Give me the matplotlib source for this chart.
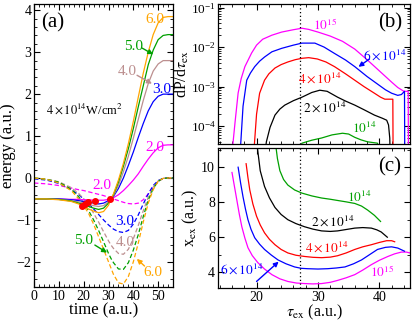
import numpy as np
import matplotlib
matplotlib.use("Agg")
import matplotlib.pyplot as plt
from matplotlib.ticker import MultipleLocator, LogLocator, NullFormatter

plt.rcParams['font.family'] = ['Liberation Serif', 'DejaVu Serif']
plt.rcParams['mathtext.fontset'] = 'stix'
plt.rcParams['xtick.direction'] = 'in'
plt.rcParams['ytick.direction'] = 'in'
plt.rcParams['xtick.top'] = True
plt.rcParams['ytick.right'] = True

# ---------------- panel (a) data ----------------
t_a = [0, 5, 10, 15, 18, 20, 22, 24, 26, 28, 30, 31, 32, 34, 36, 38, 40, 42, 44, 46, 48, 50, 52, 54, 56]
sol_60 = [-0.5, -0.5, -0.52, -0.56, -0.62, -0.68, -0.74, -0.79, -0.83, -0.8, -0.65, -0.5, -0.38, -0.05, 0.35, 0.82, 1.35, 1.93, 2.5, 3.0, 3.42, 3.7, 3.83, 3.85, 3.85]
sol_50 = [-0.5, -0.5, -0.51, -0.55, -0.6, -0.64, -0.68, -0.72, -0.75, -0.72, -0.6, -0.5, -0.4, -0.1, 0.28, 0.7, 1.18, 1.7, 2.2, 2.7, 3.05, 3.3, 3.4, 3.42, 3.42]
sol_40 = [-0.5, -0.5, -0.51, -0.54, -0.57, -0.6, -0.63, -0.66, -0.68, -0.66, -0.57, -0.5, -0.42, -0.18, 0.15, 0.52, 0.95, 1.4, 1.85, 2.25, 2.55, 2.72, 2.8, 2.8, 2.8]
sol_30 = [-0.5, -0.5, -0.5, -0.52, -0.54, -0.56, -0.57, -0.6, -0.62, -0.6, -0.54, -0.5, -0.44, -0.25, 0.0, 0.3, 0.62, 0.97, 1.3, 1.6, 1.82, 1.95, 2.0, 2.0, 2.0]
sol_20 = [-0.5, -0.5, -0.5, -0.51, -0.51, -0.52, -0.52, -0.53, -0.53, -0.53, -0.51, -0.5, -0.47, -0.4, -0.3, -0.18, -0.05, 0.1, 0.28, 0.45, 0.6, 0.72, 0.78, 0.79, 0.79]
das_60 = [0.0, -0.03, -0.12, -0.3, -0.5, -0.66, -0.85, -1.1, -1.4, -1.7, -2.0, -2.15, -2.3, -2.5, -2.53, -2.35, -2.0, -1.55, -1.05, -0.6, -0.28, -0.08, -0.01, 0.0, 0.0]
das_50 = [0.0, -0.03, -0.1, -0.27, -0.45, -0.6, -0.78, -1.0, -1.25, -1.52, -1.8, -1.92, -2.02, -2.17, -2.18, -2.02, -1.72, -1.35, -0.92, -0.53, -0.25, -0.08, -0.01, 0.0, 0.0]
das_40 = [0.0, -0.03, -0.09, -0.23, -0.37, -0.5, -0.65, -0.84, -1.05, -1.28, -1.5, -1.6, -1.68, -1.8, -1.82, -1.7, -1.45, -1.13, -0.78, -0.46, -0.22, -0.07, -0.01, 0.0, 0.0]
das_30 = [-0.02, -0.05, -0.13, -0.28, -0.4, -0.5, -0.61, -0.74, -0.87, -1.0, -1.12, -1.17, -1.22, -1.28, -1.3, -1.25, -1.1, -0.88, -0.62, -0.38, -0.18, -0.06, -0.01, 0.0, 0.0]
das_20 = [-0.12, -0.14, -0.18, -0.24, -0.28, -0.3, -0.33, -0.36, -0.39, -0.42, -0.46, -0.48, -0.5, -0.54, -0.58, -0.61, -0.62, -0.6, -0.52, -0.38, -0.22, -0.08, -0.01, 0.0, 0.0]
dot_t = [19.2, 20.5, 21.9, 24.6, 30.6]
dot_e = [-0.68, -0.62, -0.58, -0.55, -0.5]

# ---------------- panel (b) data (dP/dtau) ----------------
b15_t = [15.8, 16.5, 17.0, 17.5, 18.1, 19.2, 20.0, 21.0, 22.5, 24.1, 26.0, 27.4, 28.5, 30.0, 32.0, 34.0, 36.0, 38.0, 40.0, 42.0, 43.0, 44.0, 44.7, 44.75]
b15_p = [1e-5, 1.26e-4, 6.9e-4, 1.6e-3, 3.2e-3, 7.1e-3, 1.12e-2, 1.58e-2, 2.0e-2, 2.4e-2, 2.75e-2, 3.0e-2, 2.8e-2, 2.4e-2, 1.9e-2, 1.4e-2, 8.9e-3, 4.8e-3, 2.5e-3, 1.3e-3, 9.5e-4, 7.6e-4, 7.6e-4, 1e-5]
b6_t = [17.2, 17.8, 18.4, 19.0, 19.7, 20.5, 21.3, 22.5, 24.1, 26.0, 27.4, 29.5, 31.0, 32.7, 34.5, 36.0, 38.0, 39.2, 41.0, 42.0, 43.0, 43.6, 44.1, 44.15]
b6_p = [1e-5, 3.2e-4, 1.45e-3, 2.2e-3, 3.2e-3, 4.4e-3, 5.6e-3, 7.6e-3, 9.3e-3, 1.12e-2, 1.26e-2, 1.26e-2, 1.0e-2, 6.9e-3, 4.7e-3, 3.2e-3, 1.8e-3, 1.32e-3, 8.3e-4, 6.8e-4, 6.0e-4, 6.3e-4, 7.6e-4, 1e-5]
b4_t = [19.4, 20.0, 20.5, 21.3, 22.0, 23.0, 24.0, 25.1, 26.3, 27.4, 28.5, 29.9, 31.3, 32.7, 34.5, 36.0, 37.5, 39.2, 40.2, 40.9, 42.2, 42.25]
b4_p = [1e-5, 2.0e-4, 6.8e-4, 1.45e-3, 2.1e-3, 2.95e-3, 3.6e-3, 4.2e-3, 4.8e-3, 5.2e-3, 5.4e-3, 5.0e-3, 4.2e-3, 3.2e-3, 2.1e-3, 1.45e-3, 1.0e-3, 6.8e-4, 5.4e-4, 4.8e-4, 4.8e-4, 1e-5]
b2_t = [21.1, 21.6, 22.2, 23.0, 23.8, 24.6, 26.0, 27.4, 29.0, 30.3, 31.5, 33.2, 34.5, 36.0, 37.5, 39.2, 40.5, 41.2, 41.5, 41.7, 41.8]
b2_p = [1e-5, 4.0e-5, 9.3e-5, 1.9e-4, 2.7e-4, 3.4e-4, 4.4e-4, 5.4e-4, 7.1e-4, 8.1e-4, 7.6e-4, 5.4e-4, 4.3e-4, 3.4e-4, 2.6e-4, 1.9e-4, 1.58e-4, 1.41e-4, 1.07e-4, 5.0e-5, 1e-5]
b1_t = [26.8, 27.4, 29.0, 30.6, 32.3, 34.0, 35.0, 36.0, 37.0, 38.1, 39.7, 40.0]
b1_p = [2.5e-5, 3.7e-5, 4.4e-5, 5.0e-5, 6.0e-5, 6.6e-5, 6.3e-5, 5.2e-5, 4.5e-5, 4.0e-5, 3.7e-5, 2.5e-5]

# ---------------- panel (c) data (x_ex) ----------------
c15_t = [16.0, 16.4, 16.8, 17.2, 17.6, 18.1, 18.6, 19.3, 20.2, 21.3, 22.5, 23.8, 25.1, 26.5, 27.8, 29.2, 30.6, 32.0, 33.2, 34.6, 36.0, 37.3, 38.7, 40.0, 41.4, 42.5, 43.6, 44.4, 45.0]
c15_x = [9.7, 8.9, 8.1, 7.3, 6.6, 5.95, 5.4, 4.95, 4.55, 4.18, 3.86, 3.62, 3.47, 3.38, 3.35, 3.33, 3.35, 3.42, 3.53, 3.68, 3.86, 4.12, 4.43, 4.68, 4.9, 5.05, 5.15, 5.15, 5.1]
c6_t = [17.0, 17.4, 17.8, 18.2, 18.6, 19.1, 19.7, 20.5, 21.3, 22.4, 23.5, 24.8, 26.2, 27.3, 28.3, 30.0, 31.6, 33.0, 34.4, 35.8, 37.1, 38.4, 39.7, 41.0, 42.0, 43.0, 44.1]
c6_x = [10.0, 9.1, 8.3, 7.6, 7.0, 6.45, 5.97, 5.6, 5.3, 4.98, 4.7, 4.48, 4.3, 4.22, 4.2, 4.18, 4.2, 4.24, 4.3, 4.48, 4.7, 5.0, 5.3, 5.42, 5.45, 5.38, 5.2]
c4_t = [18.3, 18.6, 18.9, 19.4, 20.0, 20.6, 21.3, 22.1, 23.0, 24.0, 25.1, 26.4, 27.8, 29.2, 30.6, 32.0, 33.2, 34.6, 36.0, 37.3, 38.7, 40.0, 41.2, 42.0, 42.5]
c4_x = [10.2, 9.4, 8.7, 7.9, 7.2, 6.7, 6.25, 5.88, 5.57, 5.3, 5.1, 4.97, 4.9, 4.85, 4.83, 4.86, 4.94, 5.1, 5.3, 5.45, 5.57, 5.7, 5.8, 5.8, 5.74]
c2_t = [20.0, 20.6, 21.3, 22.1, 23.0, 24.0, 25.1, 26.4, 27.8, 29.2, 30.6, 32.0, 33.2, 34.6, 36.0, 37.3, 38.7, 39.6, 40.3, 40.9, 41.3]
c2_x = [11.5, 9.8, 8.9, 8.25, 7.7, 7.3, 7.0, 6.78, 6.6, 6.46, 6.36, 6.33, 6.36, 6.44, 6.52, 6.55, 6.52, 6.42, 6.3, 6.12, 6.0]
c1_t = [23.0, 23.4, 23.8, 24.4, 25.1, 26.2, 27.4, 29.0, 30.6, 32.0, 33.2, 34.6, 36.0, 37.1, 38.1, 39.2, 40.2]
c1_x = [11.6, 10.5, 9.8, 9.3, 8.98, 8.7, 8.52, 8.36, 8.24, 8.17, 8.1, 8.02, 7.93, 7.78, 7.55, 7.25, 6.9]

tau_mark = 27.0

MAG, BLU, BRN, GRN, ORG, RED = '#ff00ff', '#0000ff', '#bc8f8f', '#00a000', '#ffa500', '#ff0000'

fig = plt.figure(figsize=(4.15, 3.21), dpi=100)
axa = fig.add_axes([0.082, 0.106, 0.335, 0.8815])
axb = fig.add_axes([0.525, 0.551, 0.463, 0.4365])
axc = fig.add_axes([0.525, 0.103, 0.463, 0.436])

lw = 0.9
ds = (0, (3.5, 2))
for y, c in [(das_20, MAG), (das_30, BLU), (das_40, BRN), (das_50, GRN), (das_60, ORG)]:
    axa.plot(t_a, y, color=c, lw=lw, linestyle=ds)
for y, c in [(sol_20, MAG), (sol_30, BLU), (sol_40, BRN), (sol_50, GRN), (sol_60, ORG)]:
    axa.plot(t_a, y, color=c, lw=lw)
axa.plot(dot_t, dot_e, 'o', color=RED, ms=4, mec=RED)

axa.set_xlim(0, 56)
axa.set_ylim(-2.6, 4.15)
axa.xaxis.set_major_locator(MultipleLocator(10))
axa.xaxis.set_minor_locator(MultipleLocator(2))
axa.yaxis.set_major_locator(MultipleLocator(1))
axa.yaxis.set_minor_locator(MultipleLocator(0.2))
axa.set_xlabel('time (a.u.)', fontsize=12, labelpad=0)
axa.set_ylabel('energy (a.u.)', fontsize=12, labelpad=0)

fs = 11
fm = 9.5
axa.text(3.0, 3.7, '(a)', fontsize=15, va='center', ha='left')
axa.text(5.0, 1.65, r'$4\times10^{14}$W/cm$^2$', fontsize=9, va='center', ha='left')
axa.text(48.8, 3.78, '6.0', color=ORG, fontsize=fs, ha='center', va='center')
axa.text(40.0, 3.14, '5.0', color=GRN, fontsize=fs, ha='center', va='center')
axa.text(37.4, 2.55, '4.0', color=BRN, fontsize=fs, ha='center', va='center')
axa.text(51.5, 2.12, '3.0', color=BLU, fontsize=fs, ha='center', va='center')
axa.text(48.8, 0.73, '2.0', color=MAG, fontsize=fs, ha='center', va='center')
axa.text(27.3, -0.17, '2.0', color=MAG, fontsize=fs, ha='center', va='center')
axa.text(36.7, -1.04, '3.0', color=BLU, fontsize=fs, ha='center', va='center')
axa.text(36.7, -1.54, '4.0', color=BRN, fontsize=fs, ha='center', va='center')
axa.text(19.8, -1.5, '5.0', color=GRN, fontsize=fs, ha='center', va='center')
axa.text(48.0, -2.25, '6.0', color=ORG, fontsize=fs, ha='center', va='center')
ap = dict(arrowstyle='-|>', lw=1.0, mutation_scale=7, shrinkA=0, shrinkB=0)
axa.annotate('', xy=(48.0, 2.95), xytext=(43.5, 3.1), arrowprops=dict(ap, color=GRN))
axa.annotate('', xy=(47.5, 2.25), xytext=(41.5, 2.45), arrowprops=dict(ap, color=BRN))
axa.annotate('', xy=(29.4, -1.78), xytext=(24.5, -1.6), arrowprops=dict(ap, color=GRN))
axa.annotate('', xy=(41.4, -1.93), xytext=(44.5, -2.1), arrowprops=dict(ap, color=ORG))

# panel b
for tt, pp, c in [(b15_t, b15_p, MAG), (b6_t, b6_p, BLU), (b4_t, b4_p, RED), (b2_t, b2_p, 'k'), (b1_t, b1_p, GRN)]:
    axb.plot(tt, pp, color=c, lw=lw)
axb.axvline(tau_mark, color='k', lw=0.9, linestyle=(0, (1, 2)))
axb.set_yscale('log')
axb.set_xlim(13.7, 45)
axb.set_ylim(3.5e-5, 0.123)
axb.yaxis.set_major_locator(LogLocator(base=10, numticks=10))
axb.yaxis.set_minor_locator(LogLocator(base=10, subs=np.arange(2, 10), numticks=10))
axb.yaxis.set_minor_formatter(NullFormatter())
axb.xaxis.set_major_locator(MultipleLocator(10))
axb.xaxis.set_minor_locator(MultipleLocator(2))
axb.tick_params(labelbottom=False)
axb.set_ylabel(r'dP/d$\tau_{\rm ex}$', fontsize=11.5, labelpad=0)
axb.text(41.7, 10**-1.39, '(b)', fontsize=15, ha='center', va='center')
axb.text(31.1, 10**-1.44, r'$10^{15}$', color=MAG, fontsize=fm, ha='center', va='center')
axb.text(40.9, 10**-2.2, r'$6\times10^{14}$', color=BLU, fontsize=fm, ha='center', va='center')
axb.text(30.3, 10**-2.79, r'$4\times10^{14}$', color=RED, fontsize=fm, ha='center', va='center')
axb.text(31.1, 10**-3.52, r'$2\times10^{14}$', color='k', fontsize=fm, ha='center', va='center')
axb.text(37.6, 10**-4.05, r'$10^{14}$', color=GRN, fontsize=fm, ha='center', va='center')
axb.annotate('', xy=(36.6, 10**-2.5), xytext=(38.4, 10**-2.3), arrowprops=dict(ap, color=BLU))

# panel c
for tt, xx, c in [(c15_t, c15_x, MAG), (c6_t, c6_x, BLU), (c4_t, c4_x, RED), (c2_t, c2_x, 'k'), (c1_t, c1_x, GRN)]:
    axc.plot(tt, xx, color=c, lw=lw)
axc.axvline(tau_mark, color='k', lw=0.9, linestyle=(0, (1, 2)))
axc.set_xlim(13.7, 45)
axc.set_ylim(3.1, 11.1)
axc.xaxis.set_major_locator(MultipleLocator(10))
axc.xaxis.set_minor_locator(MultipleLocator(2))
axc.yaxis.set_major_locator(MultipleLocator(2))
axc.yaxis.set_minor_locator(MultipleLocator(1))
axc.set_xlabel(r'$\tau_{\rm ex}$ (a.u.)', fontsize=11.5, labelpad=-1)
axc.set_ylabel(r'x$_{\rm ex}$ (a.u.)', fontsize=11.5, labelpad=1)
axc.text(41.7, 10.0, '(c)', fontsize=15, ha='center', va='center')
axc.text(36.8, 8.3, r'$10^{14}$', color=GRN, fontsize=fm, ha='center', va='center')
axc.text(32.4, 6.9, r'$2\times10^{14}$', color='k', fontsize=fm, ha='center', va='center')
axc.text(31.4, 5.4, r'$4\times10^{14}$', color=RED, fontsize=fm, ha='center', va='center')
axc.text(40.5, 4.0, r'$10^{15}$', color=MAG, fontsize=fm, ha='center', va='center')
axc.text(17.6, 4.15, r'$6\times10^{14}$', color=BLU, fontsize=fm, ha='center', va='center')
axc.annotate('', xy=(23.6, 4.6), xytext=(20.0, 3.47), arrowprops=dict(ap, color=BLU))

for ax in (axa, axb, axc):
    ax.tick_params(which='major', length=4, width=0.8, labelsize=10, pad=2)
    ax.tick_params(which='minor', length=2, width=0.6)
    for s in ax.spines.values():
        s.set_linewidth(0.9)
axb.tick_params(axis='y', which='major', labelsize=9.5, pad=1.5)

fig.savefig('out.png', dpi=100)
